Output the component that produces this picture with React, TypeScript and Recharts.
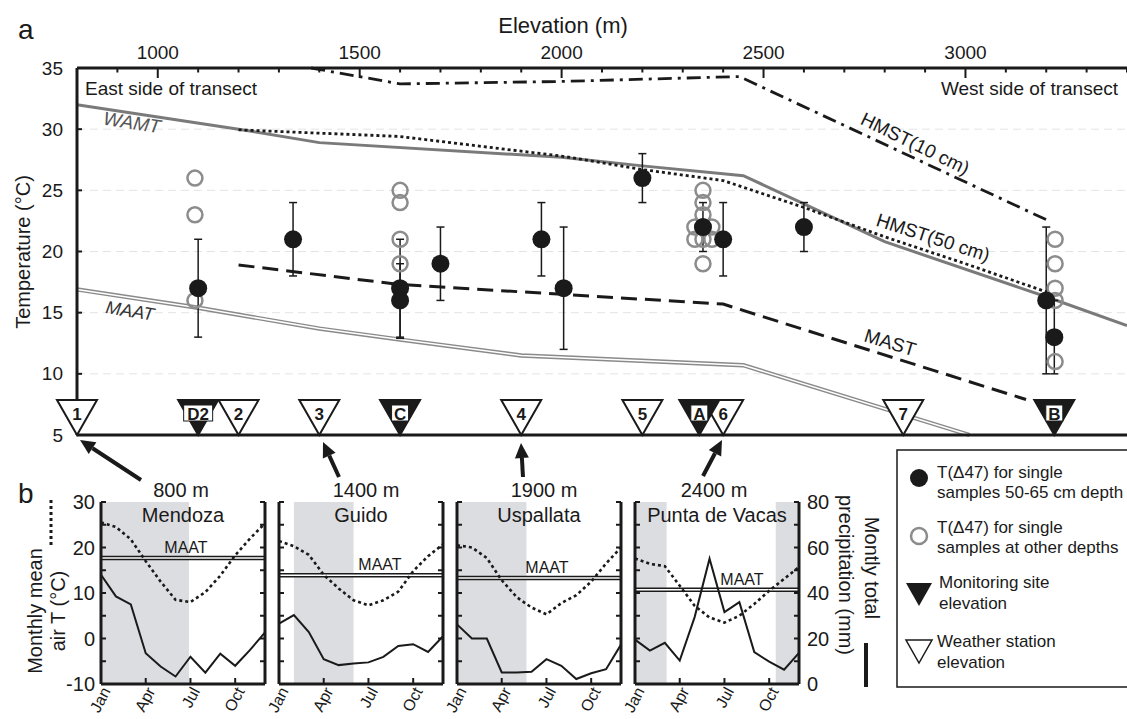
import React from 'react';
import {
  ComposedChart, Line, Scatter, XAxis, YAxis, CartesianGrid, ErrorBar,
  ReferenceArea, ReferenceLine,
} from 'recharts';

const FONT = '"Liberation Sans", Arial, Helvetica, sans-serif';
const INK = '#1a1a1a';

// ---- panel a: temperatures along the elevation transect ----
const elevTicks = [800, 900, 1000, 1100, 1200, 1300, 1400, 1500, 1600, 1700, 1800, 1900, 2000, 2100,
  2200, 2300, 2400, 2500, 2600, 2700, 2800, 2900, 3000, 3100, 3200, 3300, 3400];
const tempTicks = [5, 10, 15, 20, 25, 30, 35];

const wamtElev = [800, 1200, 1400, 2000, 2200, 2450, 2600, 2800, 3200, 3400];
const wamtTemp = [32.0, 30.0, 28.9, 27.7, 27.0, 26.2, 23.9, 20.8, 16.3, 13.95];

const hmst50Elev = [1200, 1600, 2000, 2200, 2400, 2600, 2800, 3000, 3200];
const hmst50Temp = [29.95, 29.4, 27.8, 26.7, 25.8, 23.6, 21.2, 19.0, 16.7];

const hmst10Elev = [1380, 1600, 2000, 2440, 3200];
const hmst10Temp = [35.0, 33.7, 33.9, 34.3, 22.6];

const mastElev = [1200, 1600, 2000, 2400, 3150];
const mastTemp = [18.9, 17.3, 16.5, 15.7, 7.9];

const maatElev = [800, 1100, 1400, 1600, 1900, 2000, 2450, 3010];
const maatTemp = [16.9, 15.4, 13.7, 12.8, 11.5, 11.35, 10.7, 5.0];

// T(D47) samples 50-65 cm depth, with error range
const solidElev = [1100, 1335, 1600, 1600, 1700, 1950, 2005, 2200, 2350, 2400, 2600, 3200, 3220];
const solidTemp = [17, 21, 17, 16, 19, 21, 17, 26, 22, 21, 22, 16, 13];
const solidLow = [13, 18, 13, 12.9, 16, 18, 12, 24, 20, 18, 20, 10, 10];
const solidHigh = [21, 24, 21, 19, 22, 24, 22, 28, 24, 24, 24, 22, 16];

// T(D47) samples at other depths
const openElev = [1092, 1092, 1092, 1600, 1600, 1600, 1600, 2330, 2350, 2372, 2330, 2350, 2372,
  2350, 2350, 2350, 2350, 3222, 3222, 3222, 3222, 3222];
const openTemp = [26, 23, 16, 25, 24, 21, 19, 22, 22, 22, 21, 21, 21, 25, 24, 23, 19, 21, 19, 17, 16, 11];

const weatherElev = [800, 1200, 1400, 1900, 2200, 2400, 2846];
const weatherLabels = ['1', '2', '3', '4', '5', '6', '7'];
const siteElev = [1100, 1600, 2341, 3220];
const siteLabels = ['D2', 'C', 'A', 'B'];

// ---- panel b: monthly climate at four stations ----
const monthIdx = [0, 1, 2, 3, 4, 5, 6, 7, 8, 9, 10, 11];
const monthTicks = [0, 3, 6, 9];
const monthLabels = ['Jan', 'Apr', 'Jul', 'Oct'];
const stationNames = ['Mendoza', 'Guido', 'Uspallata', 'Punta de Vacas'];
const stationElevLabels = ['800 m', '1400 m', '1900 m', '2400 m'];

const mendozaTemp = [25.5, 24.5, 21.8, 17.0, 12.5, 8.5, 8.0, 10.2, 13.8, 18.3, 22.0, 25.3];
const mendozaPrecip = [48, 38.5, 35, 13.5, 7.7, 3.3, 12, 5, 13.3, 8, 15, 22.7];
const guidoTemp = [21.4, 20.3, 18.4, 14.0, 11.0, 8.4, 7.3, 8.4, 10.3, 14.8, 18.1, 20.7];
const guidoPrecip = [26.5, 30.3, 22.8, 10.9, 8.3, 9.0, 9.5, 11.9, 16.7, 17.5, 14.1, 21.0];
const uspallataTemp = [20.5, 20.0, 17.7, 12.8, 9.1, 6.8, 5.3, 7.8, 9.5, 12.5, 16.5, 20.0];
const uspallataPrecip = [26.2, 20, 20, 5.1, 5.1, 5.4, 10.9, 8, 2.2, 4.7, 6.5, 17.3];
const puntaTemp = [17.6, 16.4, 15.9, 11.6, 7.2, 4.6, 3.5, 5.0, 7.6, 10.5, 13.1, 15.7];
const puntaPrecip = [19.5, 14.7, 18.1, 10.3, 29.4, 55.1, 31.6, 36.0, 14.0, 9.8, 6.3, 13.7];

const stationTemps = [mendozaTemp, guidoTemp, uspallataTemp, puntaTemp];
const stationPrecips = [mendozaPrecip, guidoPrecip, uspallataPrecip, puntaPrecip];
const stationMaat = [17.7, 13.9, 13.3, 10.7];
const stationShades = [[[0, 5.9]], [[1, 5]], [[0, 4.66]], [[0, 2.12], [9.44, 11]]];
const maatLabelDx = [3, 19, 8, 25];
const leftTempTicks = [-10, -5, 0, 5, 10, 15, 20, 25, 30];
const rightPrecipTicks = [0, 10, 20, 30, 40, 50, 60, 70, 80];

// plot-area placement of the four small panels
const subLefts = [101, 279, 457, 635];
const SUB_W = 164;
const SUB_TOP = 502;
const SUB_H = 182;
const SUB_PAD = 14;

const pairs = (es: number[], ts: number[]) => es.map((e, i) => ({ e, t: ts[i] }));

const wamt = pairs(wamtElev, wamtTemp);
const hmst50 = pairs(hmst50Elev, hmst50Temp);
const hmst10 = pairs(hmst10Elev, hmst10Temp);
const mast = pairs(mastElev, mastTemp);
const maat = pairs(maatElev, maatTemp);
const solid = solidElev.map((e, i) => ({
  e, t: solidTemp[i], err: [solidTemp[i] - solidLow[i], solidHigh[i] - solidTemp[i]],
}));
const open = pairs(openElev, openTemp);
const weather = weatherElev.map((e, i) => ({ e, t: 5, label: weatherLabels[i] }));
const sites = siteElev.map((e, i) => ({ e, t: 5, label: siteLabels[i] }));

const TopTick = (p: any) => {
  const v = p.payload.value;
  const major = v % 500 === 0;
  return (
    <g>
      <line x1={p.x} x2={p.x} y1={p.y} y2={p.y + (major ? 10 : 4.5)} stroke={INK} strokeWidth={2} />
      {major && (
        <text x={p.x} y={p.y - 9} textAnchor="middle" fontSize={19} fill={INK} fontFamily={FONT}>{v}</text>
      )}
    </g>
  );
};

const BottomTick = (p: any) => {
  const major = p.payload.value % 500 === 0;
  return <line x1={p.x} x2={p.x} y1={p.y} y2={p.y - (major ? 10 : 4.5)} stroke={INK} strokeWidth={2} />;
};

const LeftTick = (p: any) => (
  <g>
    <line x1={p.x} x2={p.x + 5} y1={p.y} y2={p.y} stroke={INK} strokeWidth={2} />
    <text x={p.x - 14} y={p.y} dy="0.35em" textAnchor="end" fontSize={19} fill={INK} fontFamily={FONT}>
      {p.payload.value}
    </text>
  </g>
);

const StationShape = (p: any) => {
  const { cx, cy, payload } = p;
  return (
    <g>
      <polygon points={`${cx - 20},${cy - 35} ${cx + 20},${cy - 35} ${cx},${cy}`} fill="#fff" stroke={INK} strokeWidth={2} />
      <text x={cx} y={cy - 15} textAnchor="middle" fontSize={17} fontWeight="bold" fill={INK} fontFamily={FONT}>
        {payload.label}
      </text>
    </g>
  );
};

const SiteShape = (p: any) => {
  const { cx, cy, payload } = p;
  const bw = payload.label.length > 1 ? 29 : 17;
  return (
    <g>
      <polygon points={`${cx - 20},${cy - 35} ${cx + 20},${cy - 35} ${cx},${cy}`} fill={INK} stroke={INK} strokeWidth={2} />
      <rect x={cx - bw / 2} y={cy - 30} width={bw} height={16} fill="#fff" stroke={INK} strokeWidth={1} />
      <text x={cx} y={cy - 15.5} textAnchor="middle" fontSize={17} fontWeight="bold" fill={INK} fontFamily={FONT}>
        {payload.label}
      </text>
    </g>
  );
};

function TransectChart() {
  return (
    <ComposedChart width={1127} height={445} margin={{ top: 25, right: 0, bottom: 2, left: 30 }}>
      <CartesianGrid vertical={false} stroke="#e4e4e4" strokeDasharray="8 5" />
      <XAxis type="number" dataKey="e" orientation="top" domain={[800, 3400]}
        ticks={elevTicks} interval={0} height={43} tickSize={0} tickMargin={0} tickLine={false}
        tick={TopTick} axisLine={{ stroke: INK, strokeWidth: 3 }} />
      <XAxis xAxisId="bot" type="number" dataKey="e" orientation="bottom" domain={[800, 3400]}
        ticks={elevTicks} interval={0} height={8} tickSize={0} tickMargin={0} tickLine={false}
        tick={BottomTick} axisLine={{ stroke: INK, strokeWidth: 3 }} />
      <YAxis type="number" dataKey="t" domain={[5, 35]} ticks={tempTicks} interval={0}
        width={47} tickSize={0} tickMargin={0} tickLine={false} tick={LeftTick}
        axisLine={{ stroke: INK, strokeWidth: 3 }} />
      <Line data={maat} dataKey="t" stroke="#8a8a8a" strokeWidth={4.4} dot={false} isAnimationActive={false} />
      <Line data={maat} dataKey="t" stroke="#fff" strokeWidth={1.6} dot={false} isAnimationActive={false} />
      <Line data={wamt} dataKey="t" stroke="#7a7a7a" strokeWidth={3} dot={false} isAnimationActive={false} />
      <Line data={hmst50} dataKey="t" stroke={INK} strokeWidth={2.8} strokeDasharray="3 3" dot={false} isAnimationActive={false} />
      <Line data={hmst10} dataKey="t" stroke={INK} strokeWidth={2.8} strokeDasharray="14 6 3 6" dot={false} isAnimationActive={false} />
      <Line data={mast} dataKey="t" stroke={INK} strokeWidth={3} strokeDasharray="16 8" dot={false} isAnimationActive={false} />
      <Scatter data={open} dataKey="t" isAnimationActive={false}
        shape={(p: any) => <circle cx={p.cx} cy={p.cy} r={7.5} fill="none" stroke="#8c8c8c" strokeWidth={2.5} />} />
      <Scatter data={solid} dataKey="t" isAnimationActive={false}
        shape={(p: any) => <circle cx={p.cx} cy={p.cy} r={9} fill={INK} />}>
        <ErrorBar dataKey="err" direction="y" width={4} stroke={INK} strokeWidth={1.5} />
      </Scatter>
      <Scatter data={weather} dataKey="t" isAnimationActive={false} shape={StationShape} />
      <Scatter data={sites} dataKey="t" isAnimationActive={false} shape={SiteShape} />
    </ComposedChart>
  );
}

function ClimatePanel({ i }: { i: number }) {
  const rows = monthIdx.map((m, k) => ({ m, temp: stationTemps[i][k], precip: stationPrecips[i][k] }));
  const showLeft = i === 0;
  const showRight = i === 3;
  const SubLeftTick = (p: any) => (
    <g>
      <line x1={p.x} x2={p.x + 5} y1={p.y} y2={p.y} stroke={INK} strokeWidth={2} />
      {showLeft && p.payload.value % 10 === 0 && (
        <text x={p.x - 6} y={p.y} dy="0.35em" textAnchor="end" fontSize={20} fill={INK} fontFamily={FONT}>
          {p.payload.value}
        </text>
      )}
    </g>
  );
  const SubRightTick = (p: any) => (
    <g>
      <line x1={p.x} x2={p.x - 5} y1={p.y} y2={p.y} stroke={INK} strokeWidth={2} />
      {showRight && p.payload.value % 20 === 0 && (
        <text x={p.x + 8} y={p.y} dy="0.35em" textAnchor="start" fontSize={20} fill={INK} fontFamily={FONT}>
          {p.payload.value}
        </text>
      )}
    </g>
  );
  const MonthTick = (p: any) => {
    const label = monthLabels[monthTicks.indexOf(p.payload.value)];
    const ax = p.x + 10;
    const ay = p.y + 7;
    return (
      <g>
        <line x1={p.x} x2={p.x} y1={p.y} y2={p.y - 6} stroke={INK} strokeWidth={2} />
        <text x={ax} y={ay} textAnchor="end" fontSize={16} fill={INK} fontFamily={FONT}
          transform={`rotate(-62 ${ax} ${ay})`}>{label}</text>
      </g>
    );
  };
  return (
    <div style={{ position: 'absolute', left: subLefts[i] - 40, top: SUB_TOP - SUB_PAD }}>
      <ComposedChart width={SUB_W + 80} height={SUB_H + SUB_PAD + 45} data={rows}
        margin={{ top: SUB_PAD, right: 0, bottom: 0, left: 0 }}>
        {stationShades[i].map(([a, b], k) => (
          <ReferenceArea key={k} x1={a} x2={b} yAxisId="t" fill="#dcdde0" fillOpacity={1} stroke="none" />
        ))}
        <XAxis type="number" dataKey="m" domain={[0, 11]} ticks={monthTicks} interval={0} height={45}
          tickSize={0} tickMargin={0} tickLine={false} tick={MonthTick} axisLine={{ stroke: INK, strokeWidth: 3 }} />
        <XAxis xAxisId="top" type="number" dataKey="m" orientation="top" domain={[0, 11]} height={0}
          tick={false} tickLine={false} axisLine={{ stroke: INK, strokeWidth: 3 }} />
        <YAxis yAxisId="t" type="number" domain={[-10, 30]} ticks={leftTempTicks} interval={0} width={40}
          tickSize={0} tickMargin={0} tickLine={false} tick={SubLeftTick} axisLine={{ stroke: INK, strokeWidth: 3 }} />
        <YAxis yAxisId="p" orientation="right" type="number" domain={[0, 80]} ticks={rightPrecipTicks} interval={0}
          width={40} tickSize={0} tickMargin={0} tickLine={false} tick={SubRightTick}
          axisLine={{ stroke: INK, strokeWidth: 3 }} />
        <ReferenceLine y={stationMaat[i]} yAxisId="t" stroke={INK} strokeWidth={4.4}
          label={{ value: 'MAAT', position: 'top', dx: maatLabelDx[i], fontSize: 16, fill: INK, fontFamily: FONT }} />
        <ReferenceLine y={stationMaat[i]} yAxisId="t" stroke="#fff" strokeWidth={1.5} />
        <Line yAxisId="t" dataKey="temp" stroke={INK} strokeWidth={2.6} strokeDasharray="3 3" dot={false}
          isAnimationActive={false} />
        <Line yAxisId="p" dataKey="precip" stroke={INK} strokeWidth={2} dot={false} isAnimationActive={false} />
      </ComposedChart>
    </div>
  );
}

const arrows = [
  { tx: 141, ty: 480, hx: 80, hy: 440 },
  { tx: 339, ty: 477, hx: 323, hy: 442 },
  { tx: 523, ty: 477, hx: 521, hy: 443 },
  { tx: 703, ty: 476, hx: 722, hy: 440 },
];

function Arrow({ tx, ty, hx, hy }: { tx: number; ty: number; hx: number; hy: number }) {
  const len = Math.hypot(hx - tx, hy - ty);
  const ux = (hx - tx) / len;
  const uy = (hy - ty) / len;
  const bx = hx - ux * 15;
  const by = hy - uy * 15;
  return (
    <g>
      <line x1={tx} y1={ty} x2={bx} y2={by} stroke={INK} strokeWidth={4} />
      <polygon points={`${hx},${hy} ${bx - uy * 7},${by + ux * 7} ${bx + uy * 7},${by - ux * 7}`} fill={INK} />
    </g>
  );
}

function Overlay() {
  const t = { fontFamily: FONT, fill: INK };
  return (
    <svg width={1127} height={719} style={{ position: 'absolute', left: 0, top: 0, pointerEvents: 'none' }}>
      <text x={18} y={39} fontSize={28} {...t}>a</text>
      <text x={18} y={503} fontSize={28} {...t}>b</text>
      <text x={563} y={33} fontSize={22} textAnchor="middle" {...t}>Elevation (m)</text>
      <text x={23} y={252} fontSize={20} textAnchor="middle" dy="0.35em" transform="rotate(-90 23 252)" {...t}>
        Temperature (°C)
      </text>
      <text x={85} y={95} fontSize={19} {...t}>East side of transect</text>
      <text x={1118} y={95} fontSize={19} textAnchor="end" {...t}>West side of transect</text>
      <text x={132} y={129} fontSize={19} fontStyle="italic" textAnchor="middle" transform="rotate(9 132 123)"
        fontFamily={FONT} fill="#555">WAMT</text>
      <text x={130} y={317} fontSize={18} fontStyle="italic" textAnchor="middle" transform="rotate(9 130 311)"
        fontFamily={FONT} fill="#333">MAAT</text>
      <text x={915} y={150} fontSize={19} textAnchor="middle" transform="rotate(26 915 144)" {...t}>HMST(10 cm)</text>
      <text x={933} y={244} fontSize={19} textAnchor="middle" transform="rotate(18 933 238)" {...t}>HMST(50 cm)</text>
      <text x={890} y={349} fontSize={19} textAnchor="middle" transform="rotate(17 890 343)" {...t}>MAST</text>
      {arrows.map((a, k) => <Arrow key={k} {...a} />)}

      {stationNames.map((n, k) => (
        <g key={n}>
          <text x={subLefts[k] + SUB_W / 2 + (k === 0 ? -2 : k === 3 ? -3 : 5)} y={497} fontSize={20}
            textAnchor="middle" {...t}>{stationElevLabels[k]}</text>
          <text x={subLefts[k] + SUB_W / 2} y={522} fontSize={20} textAnchor="middle" {...t}>{n}</text>
        </g>
      ))}

      <line x1={51} x2={51} y1={500} y2={545} stroke={INK} strokeWidth={3} strokeDasharray="3 3" />
      <text x={35} y={611} fontSize={20} textAnchor="middle" dy="0.35em" transform="rotate(-90 35 611)" {...t}>
        Monthly mean
      </text>
      <text x={58} y={611} fontSize={20} textAnchor="middle" dy="0.35em" transform="rotate(-90 58 611)" {...t}>
        air T (°C)
      </text>
      <text x={872} y={568} fontSize={20} textAnchor="middle" dy="0.35em" transform="rotate(90 872 568)" {...t}>
        Montly total
      </text>
      <text x={846} y={575} fontSize={20} textAnchor="middle" dy="0.35em" transform="rotate(90 846 575)" {...t}>
        precipitation (mm)
      </text>
      <line x1={866} x2={866} y1={643} y2={687} stroke={INK} strokeWidth={4} />

      <rect x={897} y={450} width={240} height={237} fill="#fff" stroke={INK} strokeWidth={1.5} />
      <circle cx={919} cy={478} r={9} fill={INK} />
      <text x={937} y={478} fontSize={17} {...t}>T(Δ47) for single</text>
      <text x={937} y={498} fontSize={17} {...t}>samples 50-65 cm depth</text>
      <circle cx={919} cy={536} r={8} fill="none" stroke="#8c8c8c" strokeWidth={2.5} />
      <text x={937} y={533} fontSize={17} {...t}>T(Δ47) for single</text>
      <text x={937} y={553} fontSize={17} {...t}>samples at other depths</text>
      <polygon points="906,583 932,583 919,606" fill={INK} />
      <text x={939} y={588} fontSize={17} {...t}>Monitoring site</text>
      <text x={939} y={609} fontSize={17} {...t}>elevation</text>
      <polygon points="906,640 932,640 919,663" fill="#fff" stroke={INK} strokeWidth={1.5} />
      <text x={937} y={647} fontSize={17} {...t}>Weather station</text>
      <text x={937} y={668} fontSize={17} {...t}>elevation</text>
    </svg>
  );
}

export default function App() {
  return (
    <div style={{ position: 'absolute', left: 0, top: 0, width: 1127, height: 719, background: '#fff', overflow: 'hidden' }}>
      <div style={{ position: 'absolute', left: 0, top: 0 }}>
        <TransectChart />
      </div>
      {stationNames.map((_, i) => <ClimatePanel key={i} i={i} />)}
      <Overlay />
    </div>
  );
}
